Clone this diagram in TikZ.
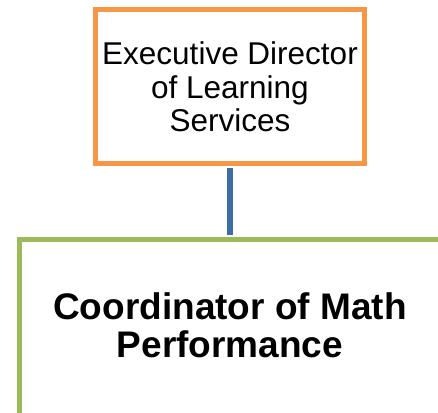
\documentclass[tikz,border=0pt]{standalone}
\usepackage{fontspec}
\setmainfont{Liberation Sans}
\usetikzlibrary{positioning}

\definecolor{boxorange}{HTML}{F79646}
\definecolor{boxgreen}{HTML}{9BBB59}
\definecolor{linkblue}{HTML}{3E6DA6}

\tikzset{
  topbox/.style={draw=boxorange, line width=5pt, fill=white, rectangle,
    minimum width=268.5pt, minimum height=153.5pt, inner sep=2pt,
    align=center, font=\fontsize{31.5pt}{33.5pt}\selectfont},
  rolebox/.style={draw=boxgreen, line width=5pt, fill=white, rectangle,
    minimum width=422pt, minimum height=240pt},
  roletext/.style={inner sep=0pt, align=center,
    font=\fontsize{37pt}{38pt}\selectfont\bfseries},
  link/.style={draw=linkblue, line width=5.5pt,
    shorten <=2.5pt, shorten >=2.5pt}
}

\begin{document}
\begin{tikzpicture}[x=1pt,y=1pt]
  \useasboundingbox (0,0) rectangle (438,412);
  \clip (0,0) rectangle (438,412);

  \node[topbox] (director) at (230,325.25)
    {Executive Director\\of Learning\\Services};
  % the lower box runs off the right and bottom edges
  \node[rolebox] (coord) at (230,52) {};
  \node[roletext, below=55pt of coord.north] (coordname)
    {Coordinator of Math\\Performance};

  \draw[link] (director.south) -- (coord.north);
\end{tikzpicture}
\end{document}
